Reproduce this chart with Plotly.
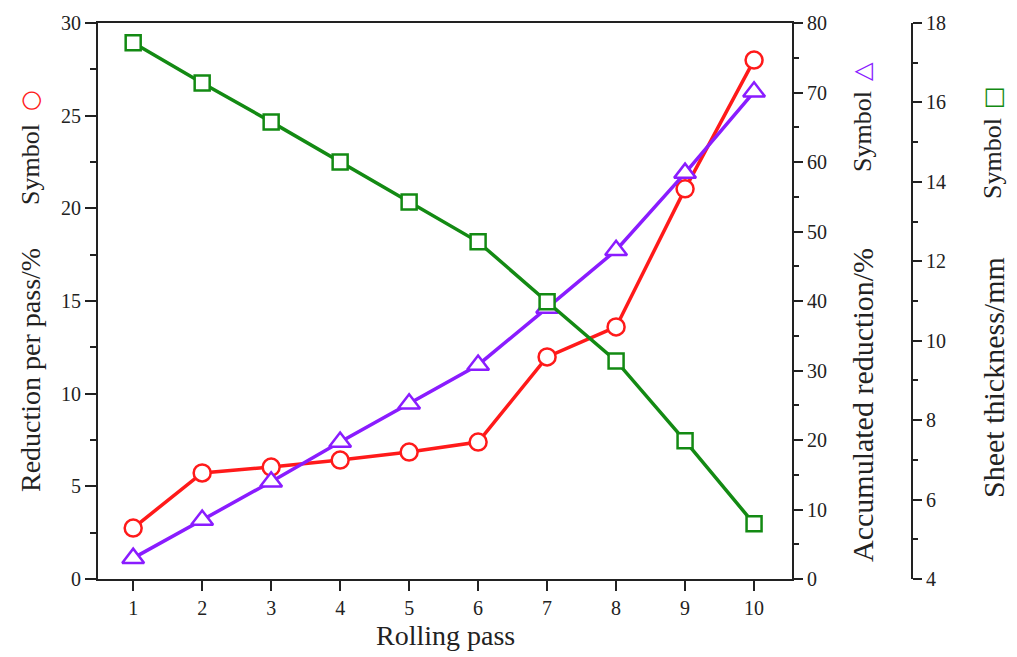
import plotly.graph_objects as go

passes = [1, 2, 3, 4, 5, 6, 7, 8, 9, 10]
reduction_per_pass = [2.75, 5.72, 6.04, 6.42, 6.85, 7.39, 11.98, 13.6, 21.05, 28.0]
accumulated_reduction = [3.0, 8.5, 14.0, 19.7, 25.2, 30.8, 39.0, 47.3, 58.4, 70.1]
sheet_thickness = [17.5, 16.49, 15.51, 14.5, 13.49, 12.49, 10.98, 9.49, 7.48, 5.39]

W, H = 1017, 657
L, R, T, B = 98, 792, 23, 579
RAX = 912

RED = "#ff1a1a"
PURPLE = "#8a1cff"
GREEN = "#138a13"
FONT = "Liberation Serif"

fig = go.Figure()
fig.add_trace(go.Scatter(
    x=passes, y=sheet_thickness, yaxis="y3", mode="lines+markers",
    line=dict(color=GREEN, width=3.5),
    marker=dict(symbol="square", size=15, color="white", line=dict(width=2.5, color=GREEN)),
    showlegend=False))
fig.add_trace(go.Scatter(
    x=passes, y=accumulated_reduction, yaxis="y2", mode="lines+markers",
    line=dict(color=PURPLE, width=3.5),
    marker=dict(symbol="triangle-up", size=19, color="white", line=dict(width=2.5, color=PURPLE)),
    showlegend=False))
fig.add_trace(go.Scatter(
    x=passes, y=reduction_per_pass, yaxis="y", mode="lines+markers",
    line=dict(color=RED, width=3.5),
    marker=dict(symbol="circle", size=17, color="white", line=dict(width=2.5, color=RED)),
    showlegend=False))

tickfont = dict(family=FONT, size=20, color="#222")
common = dict(showgrid=False, zeroline=False, showline=True, linecolor="#222", linewidth=2,
              ticks="outside", tickcolor="#222", tickwidth=2, tickfont=tickfont,
              automargin=False)

fig.update_layout(
    width=W, height=H,
    margin=dict(l=0, r=0, t=0, b=0, autoexpand=False),
    paper_bgcolor="white", plot_bgcolor="white",
    xaxis=dict(domain=[L / W, R / W], range=[0.49, 10.55], tickvals=passes, ticklen=10,
               mirror=True, **common),
    yaxis=dict(domain=[1 - B / H, 1 - T / H], range=[0, 30], dtick=5, ticklen=11,
               minor=dict(dtick=2.5, ticks="outside", ticklen=6, tickwidth=2, tickcolor="#222"),
               **common),
    yaxis2=dict(overlaying="y", side="right", anchor="x", range=[0, 80], dtick=10, ticklen=9,
                minor=dict(dtick=5, ticks="outside", ticklen=5, tickwidth=2, tickcolor="#222"),
                **common),
    yaxis3=dict(overlaying="y", side="right", anchor="free", position=RAX / W, range=[4, 18],
                dtick=2, ticklen=9,
                minor=dict(dtick=1, ticks="outside", ticklen=5, tickwidth=2, tickcolor="#222"),
                **common),
)


def vtext(text, xpx, ypx, color="#222", family=FONT, size=27):
    fig.add_annotation(x=xpx / W, y=1 - ypx / H, xref="paper", yref="paper", textangle=-90,
                       text=text, showarrow=False,
                       font=dict(family=family, size=size, color=color),
                       xanchor="center", yanchor="middle")

# left axis title
vtext("Reduction per pass/%", 30, 370, size=28)
vtext("Symbol", 30, 165, size=26)
vtext("○", 30, 101, RED, "DejaVu Sans", 24)
# middle axis title
vtext("Accumulated reduction/%", 862, 405, size=30)
vtext("Symbol", 862, 132, size=26)
vtext("△", 862, 72, PURPLE, "DejaVu Sans", 24)
# right axis title
vtext("Sheet thickness/mm", 993, 378, size=30)
vtext("Symbol", 993, 159, size=26)
vtext("□", 993, 98, GREEN, "DejaVu Sans", 24)

fig.add_annotation(x=(L + R) / 2 / W, y=1 - 635 / H, xref="paper", yref="paper",
                   text="Rolling pass", showarrow=False,
                   font=dict(family=FONT, size=28, color="#222"),
                   xanchor="center", yanchor="middle")

fig.write_html("out.html")
